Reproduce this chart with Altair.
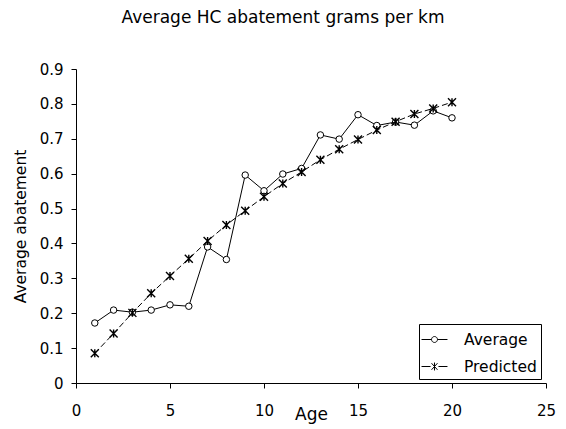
import math
import altair as alt
import pandas as pd

ages = list(range(1, 21))
average = [0.172, 0.209, 0.203, 0.209, 0.224, 0.220, 0.390, 0.354, 0.596, 0.551,
           0.599, 0.615, 0.711, 0.699, 0.769, 0.738, 0.748, 0.739, 0.780, 0.760]
predicted = [0.085, 0.142, 0.201, 0.257, 0.307, 0.356, 0.407, 0.453, 0.494, 0.534,
             0.572, 0.605, 0.640, 0.670, 0.698, 0.725, 0.749, 0.771, 0.787, 0.805]
series = ["Average", "Predicted"]
x_ticks = [0, 5, 10, 15, 20, 25]
y_ticks = [0, 0.1, 0.2, 0.3, 0.4, 0.5, 0.6, 0.7, 0.8, 0.9]

df = pd.DataFrame({
    "Age": ages + ages,
    "Value": average + predicted,
    "Series": [series[0]] * len(ages) + [series[1]] * len(ages),
})

FONT = "DejaVu Sans"
STAR = "M-1,-1L1,1M-1,1L1,-1M0,-1L0,1"

# legend glyph "—o—" : line pieces and a small polygonal circle
_r = 0.27
_circ = "M" + "L".join(
    f"{_r * math.cos(2 * math.pi * k / 20):.3f},{_r * math.sin(2 * math.pi * k / 20):.3f}"
    for k in range(21)) + "Z"
LEG_AVG = f"M-1.18,0L-{_r},0M{_r},0L1.18,0" + _circ
LEG_PRED = ("M-1.18,0L-0.36,0M0.36,0L1.18,0M-0.27,-0.3L0.27,0.3"
            "M-0.27,0.3L0.27,-0.3M0,-0.36L0,0.36")

x_enc = alt.X("Age:Q", scale=alt.Scale(domain=[0, 25], nice=False, zero=False),
              axis=alt.Axis(values=x_ticks, format="d", title="Age",
                            titleFontSize=17, titleFontWeight="normal", titleFont=FONT,
                            titleX=235, titleY=36, titleBaseline="alphabetic",
                            titleAlign="center",
                            labelPadding=15, labelFlush=False))
y_enc = alt.Y("Value:Q", scale=alt.Scale(domain=[0, 0.9], nice=False),
              axis=alt.Axis(values=y_ticks, format=".1~f", title="Average abatement",
                            titleFontSize=15.5, titleFontWeight="normal", titleFont=FONT,
                            titleX=-56, titleY=157, titleAlign="center",
                            titleBaseline="middle", titleAngle=-90,
                            labelPadding=8))

base = alt.Chart(df).encode(x=x_enc, y=y_enc)

avg_line = base.transform_filter(alt.datum.Series == "Average").mark_line(
    color="black", strokeWidth=1)
avg_pts = base.transform_filter(alt.datum.Series == "Average").mark_point(
    shape="circle", size=42, filled=True, fill="white", stroke="black",
    strokeWidth=1, opacity=1)
pred_line = base.transform_filter(alt.datum.Series == "Predicted").mark_line(
    color="black", strokeWidth=1, strokeDash=[6, 3])
pred_pts = base.transform_filter(alt.datum.Series == "Predicted").mark_point(
    shape=STAR, size=64, stroke="black", strokeWidth=1.4, opacity=1)

legend_layer = base.mark_point(opacity=0).encode(
    shape=alt.Shape("Series:N",
                    scale=alt.Scale(domain=series, range=[LEG_AVG, LEG_PRED]),
                    legend=alt.Legend(
                        title=None, orient="none", legendX=343, legendY=255,
                        padding=4, rowPadding=7, symbolSize=484,
                        symbolOpacity=1, symbolStrokeColor="black",
                        symbolFillColor="white", symbolStrokeWidth=1,
                        labelOffset=18, labelFontSize=15.5, labelFont=FONT,
                        labelColor="black",
                        strokeColor="black", fillColor="white")))

chart = alt.layer(avg_line, avg_pts, pred_line, pred_pts, legend_layer).properties(
    width=470, height=314,
    title=alt.Title("Average HC abatement grams per km", font=FONT, fontSize=17,
                    fontWeight="normal", anchor="middle", dx=-28, offset=35,
                    color="black"),
    padding={"left": 68, "top": 61, "right": 12, "bottom": 44},
    autosize=alt.AutoSizeParams(type="none"),
).configure_view(stroke=None).configure_axis(
    grid=False, domainColor="black", domainWidth=1, tickColor="black",
    tickSize=5, tickWidth=1, labelColor="black", labelFont=FONT,
    labelFontSize=15, titleColor="black",
)

chart.save("out.html", embed_options={"renderer": "svg", "actions": False})
